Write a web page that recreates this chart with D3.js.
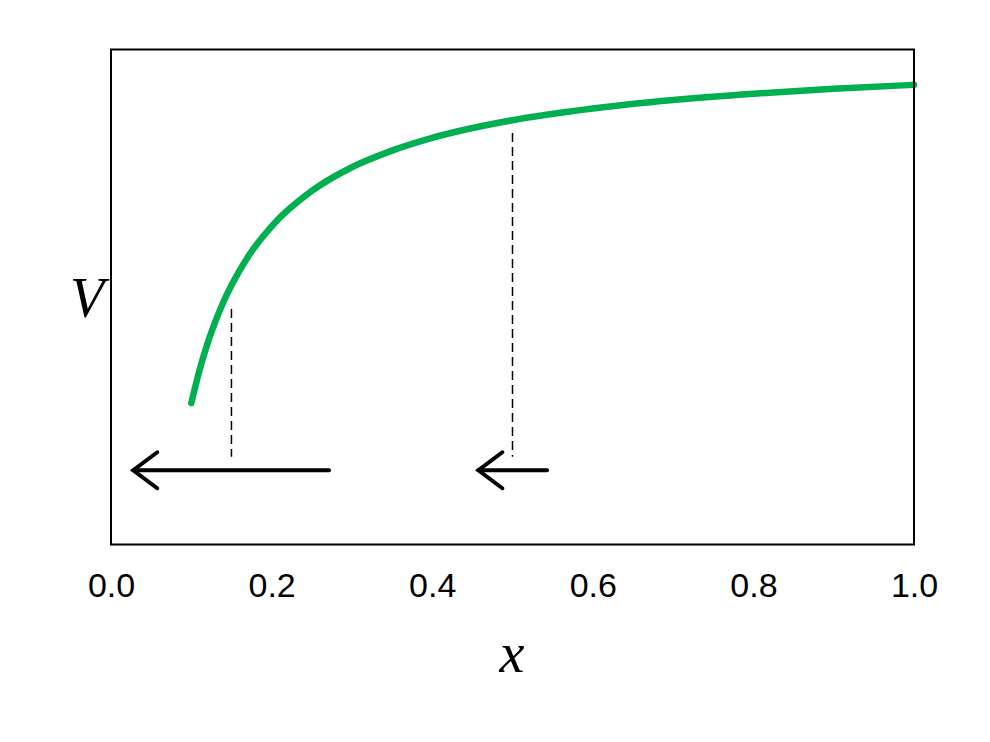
<!DOCTYPE html>
<html><head><meta charset="utf-8">
<script src="https://cdn.jsdelivr.net/npm/d3@7"></script>
<style>body{margin:0;background:#fff}</style>
</head><body>
<svg id="c" width="990" height="742"></svg>
<script>
// Curve V(x)
const curveX = [0.10,0.11,0.12,0.13,0.14,0.15,0.17,0.20,0.25,0.30,0.35,0.40,0.50,0.60,0.70,0.80,0.90,1.00];
const curveV = [-10.0,-9.09,-8.33,-7.69,-7.14,-6.67,-5.88,-5.0,-4.0,-3.33,-2.86,-2.5,-2.0,-1.67,-1.43,-1.25,-1.11,-1.0];
// Dashed verticals: x, top V, bottom V
const dashX = [0.15, 0.50];
const dashTop = [-7.34, -2.36];
const dashBottom = [-11.52, -11.52];
// Arrows: from (tail) to (tip), at V level
const arrowFrom = [0.2715, 0.543];
const arrowTo = [0.0277, 0.4575];
const arrowV = [-11.9, -11.9];
const xTicks = [0.0,0.2,0.4,0.6,0.8,1.0];
const xDomain = [0,1], vDomain = [-14,0];

const svg = d3.select("#c");
const L=111, R=914, T=49.5, B=544.5;
const x = d3.scaleLinear().domain(xDomain).range([L,R]);
const y = d3.scaleLinear().domain(vDomain).range([B,T]);

// axis tick labels (no tick marks)
const ax = d3.axisBottom(x).tickValues(xTicks).tickFormat(d3.format(".1f")).tickSize(0).tickPadding(28);
const g = svg.append("g").attr("transform",`translate(0,${B})`).call(ax);
g.select(".domain").remove();
g.selectAll("text").attr("font-family","Liberation Sans, Arial, sans-serif").attr("font-size",34).attr("fill","#000");

// dashed lines
svg.selectAll(".dash").data(dashX).join("line")
  .attr("x1",d=>x(d)).attr("x2",d=>x(d))
  .attr("y1",(d,i)=>y(dashTop[i])).attr("y2",(d,i)=>y(dashBottom[i]))
  .attr("stroke","#000").attr("stroke-width",1.5).attr("stroke-dasharray","9,5");

// arrows
arrowFrom.forEach((f,i)=>{
  const x0=x(f), x1=x(arrowTo[i]), yy=y(arrowV[i]);
  svg.append("line").attr("x1",x0).attr("x2",x1).attr("y1",yy).attr("y2",yy)
    .attr("stroke","#000").attr("stroke-width",4).attr("stroke-linecap","round");
  svg.append("path").attr("d",`M${x1+24},${yy-18}L${x1},${yy}L${x1+24},${yy+18}`)
    .attr("fill","none").attr("stroke","#000").attr("stroke-width",4).attr("stroke-linecap","round").attr("stroke-linejoin","miter");
});

// curve
const line = d3.line().x(d=>x(d[0])).y(d=>y(d[1])).curve(d3.curveMonotoneX);
svg.append("path").datum(curveX.map((v,i)=>[v,curveV[i]])).attr("d",line)
  .attr("fill","none").attr("stroke","#00b050").attr("stroke-width",6.5).attr("stroke-linecap","round");

// frame
svg.append("rect").attr("x",L).attr("y",T).attr("width",R-L).attr("height",B-T)
  .attr("fill","none").attr("stroke","#000").attr("stroke-width",2);

// labels
svg.append("text").attr("x",512).attr("y",672).attr("text-anchor","middle")
  .attr("font-family","Liberation Serif, Times New Roman, serif").attr("font-style","italic").attr("font-size",56).text("x");
svg.append("text").attr("x",87).attr("y",317).attr("text-anchor","middle")
  .attr("font-family","Liberation Serif, Times New Roman, serif").attr("font-style","italic").attr("font-size",56).text("V");
</script>
</body></html>
